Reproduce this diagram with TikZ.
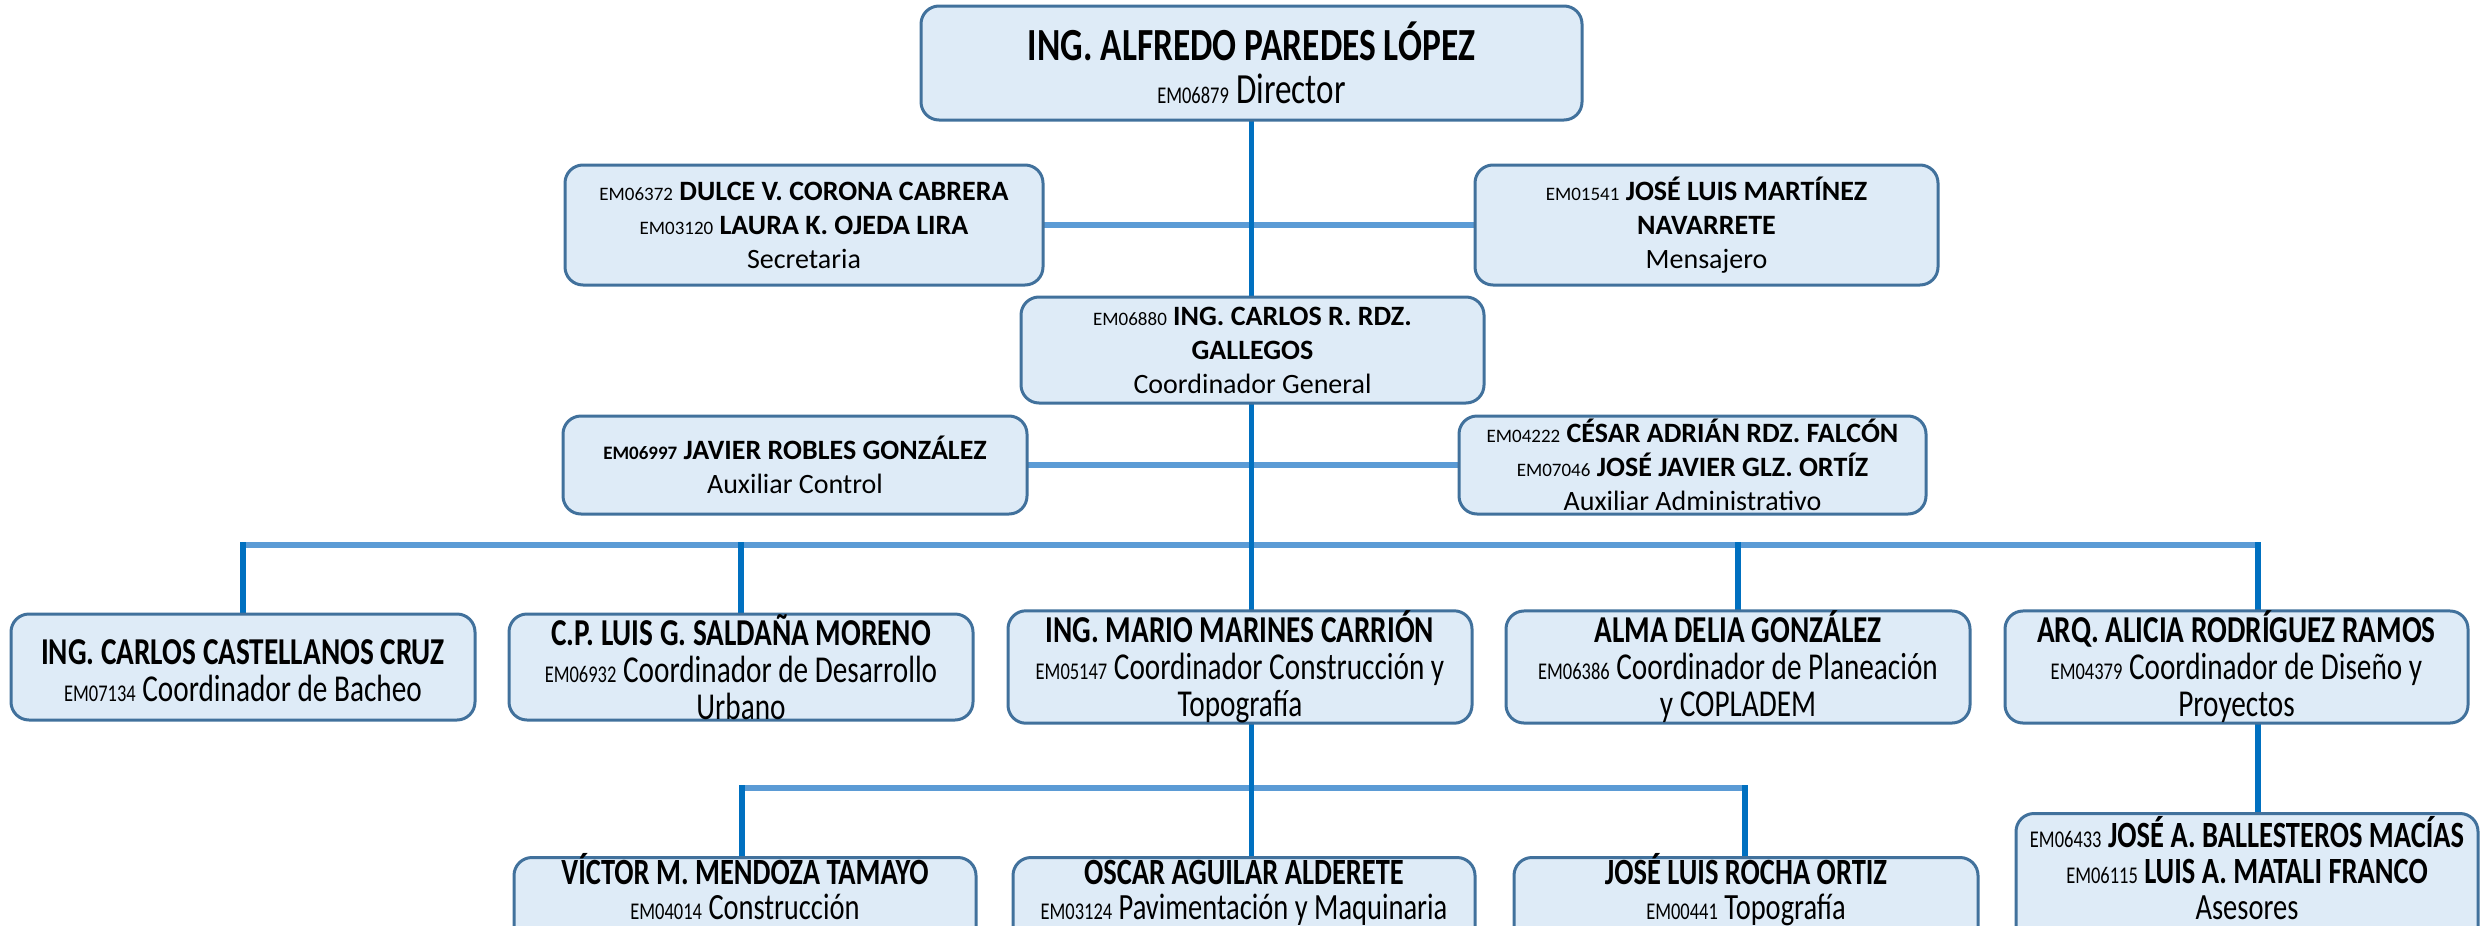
\documentclass[tikz,border=0pt]{standalone}
\usepackage{fontspec}
\setmainfont{Carlito}
\newfontfamily\condfont[FakeStretch=0.77]{Carlito}
\definecolor{boxfill}{RGB}{222,235,247}
\definecolor{boxline}{RGB}{65,113,156}
\definecolor{hlcol}{RGB}{91,155,213}
\definecolor{vlcol}{RGB}{0,112,192}
\newcommand\emc[1]{{\fontsize{19}{19}\selectfont #1}}
\newcommand\emk[1]{{\fontsize{24}{24}\selectfont #1}}
\pgfdeclarelayer{bg}
\pgfsetlayers{bg,main}
\begin{document}
\begin{tikzpicture}[x=1pt,y=-1pt,
  box/.style={draw=boxline, line width=3pt, fill=boxfill, rounded corners=18pt,
    align=center, inner sep=0pt},
  topbox/.style={box, font={\fontsize{28}{34}\selectfont}},
  lowbox/.style={box, font={\condfont\fontsize{38}{37}\selectfont}},
  lowtext/.style={align=center, inner sep=0pt, anchor=base, font={\condfont\fontsize{37}{35}\selectfont}},
  hline/.style={draw=hlcol, line width=5.5pt, line cap=rect},
  vline/.style={draw=vlcol, line width=5.5pt, line cap=rect}]
\useasboundingbox (0,0) rectangle (2481,926);
\clip (0,0) rectangle (2481,926);

\node[box, font={\condfont\fontsize{43}{43}\selectfont}, minimum width=661pt, minimum height=114pt] (dir) at (1251.5,63)
  {{\fontsize{46}{46}\selectfont\bfseries ING. ALFREDO PAREDES LÓPEZ}\\ \emk{EM06879} Director};

\node[topbox, minimum width=478pt, minimum height=120pt] (sec) at (804,225)
  {\emc{EM06372} \textbf{DULCE V. CORONA CABRERA}\\ \emc{EM03120} \textbf{LAURA K. OJEDA LIRA}\\ Secretaria};
\node[topbox, minimum width=463pt, minimum height=120pt] (men) at (1706.5,225)
  {\emc{EM01541} \textbf{JOSÉ LUIS MARTÍNEZ}\\ \textbf{NAVARRETE}\\ Mensajero};
\node[topbox, minimum width=463pt, minimum height=106pt] (cg) at (1252.5,350)
  {\emc{EM06880} \textbf{ING. CARLOS R. RDZ.}\\ \textbf{GALLEGOS}\\ Coordinador General};
\node[topbox, minimum width=464pt, minimum height=98pt] (aux) at (795,465)
  {\textbf{\emc{EM06997} JAVIER ROBLES GONZÁLEZ}\\ Auxiliar Control};
\node[topbox, minimum width=467pt, minimum height=98pt] (adm) at (1692.5,465)
  {\emc{EM04222} \textbf{CÉSAR ADRIÁN RDZ. FALCÓN}\\ \emc{EM07046} \textbf{JOSÉ JAVIER GLZ. ORTÍZ}\\ Auxiliar Administrativo};

\node[lowbox, minimum width=464pt, minimum height=106pt] (b1) at (243,667)
  {\vphantom{Í}\textbf{ING. CARLOS CASTELLANOS CRUZ}\\ \emk{EM07134} Coordinador de Bacheo};
\node[lowbox, minimum width=464pt, minimum height=106pt] (b2) at (741,667)
  {\textbf{C.P. LUIS G. SALDAÑA MORENO}\\ \emk{EM06932} Coordinador de Desarrollo\\ Urbano};
\node[lowbox, minimum width=464pt, minimum height=106pt] (b3) at (1240,667)
  {\textbf{ING. MARIO MARINES CARRIÓN}\\ \emk{EM05147} Coordinador Construcción y\\ Topografía};
\node[lowbox, minimum width=464pt, minimum height=106pt] (b4) at (1738,667)
  {\textbf{ALMA DELIA GONZÁLEZ}\\ \emk{EM06386} Coordinador de Planeación\\ y COPLADEM};
\node[lowbox, minimum width=463pt, minimum height=106pt] (b5) at (2236.5,667)
  {\textbf{ARQ. ALICIA RODRÍGUEZ RAMOS}\\ \emk{EM04379} Coordinador de Diseño y\\ Proyectos};

\node[lowbox, minimum width=462pt, minimum height=110pt, anchor=north] (c1) at (745,856) {};
\node[lowtext] (c1t) at (745,919)
  {\textbf{VÍCTOR M. MENDOZA TAMAYO}\\ \emk{EM04014} Construcción};
\node[lowbox, minimum width=462pt, minimum height=110pt, anchor=north] (c2) at (1244,856) {};
\node[lowtext] (c2t) at (1244,919)
  {\textbf{OSCAR AGUILAR ALDERETE}\\ \emk{EM03124} Pavimentación y Maquinaria};
\node[lowbox, minimum width=464pt, minimum height=110pt, anchor=north] (c3) at (1746,856) {};
\node[lowtext] (c3t) at (1746,919)
  {\textbf{JOSÉ LUIS ROCHA ORTIZ}\\ \emk{EM00441} Topografía};
\node[lowbox, minimum width=462pt, minimum height=150pt, anchor=north] (ase) at (2247,812) {};
\node[lowtext, font={\condfont\fontsize{37}{36}\selectfont}] (aset) at (2247,919)
  {\emk{EM06433} \textbf{JOSÉ A. BALLESTEROS MACÍAS}\\ \emk{EM06115} \textbf{LUIS A. MATALI FRANCO}\\ Asesores};

\coordinate (ja) at (243,545);
\coordinate (jb) at (741,545);
\coordinate (jc) at (1738,545);
\coordinate (jd) at (2258,545);
\coordinate (ka) at (742,788);
\coordinate (kb) at (1745,788);

\begin{pgfonlayer}{bg}
  \draw[hline] (sec.east) -- (men.west);
  \draw[hline] (aux.east) -- (adm.west);
  \draw[hline] (ja) -- (jd);
  \draw[hline] (ka) -- (kb);
  \draw[vline] (dir.south) -- (dir.south |- b3.north);
  \draw[vline] (ja) -- (b1.north);
  \draw[vline] (jb) -- (b2.north);
  \draw[vline] (jc) -- (b4.north);
  \draw[vline] (jd) -- (jd |- ase.north);
  \draw[vline] (dir.south |- b3.south) -- (dir.south |- c2.north);
  \draw[vline] (ka) -- (ka |- c1.north);
  \draw[vline] (kb) -- (kb |- c3.north);
\end{pgfonlayer}
\end{tikzpicture}
\end{document}
